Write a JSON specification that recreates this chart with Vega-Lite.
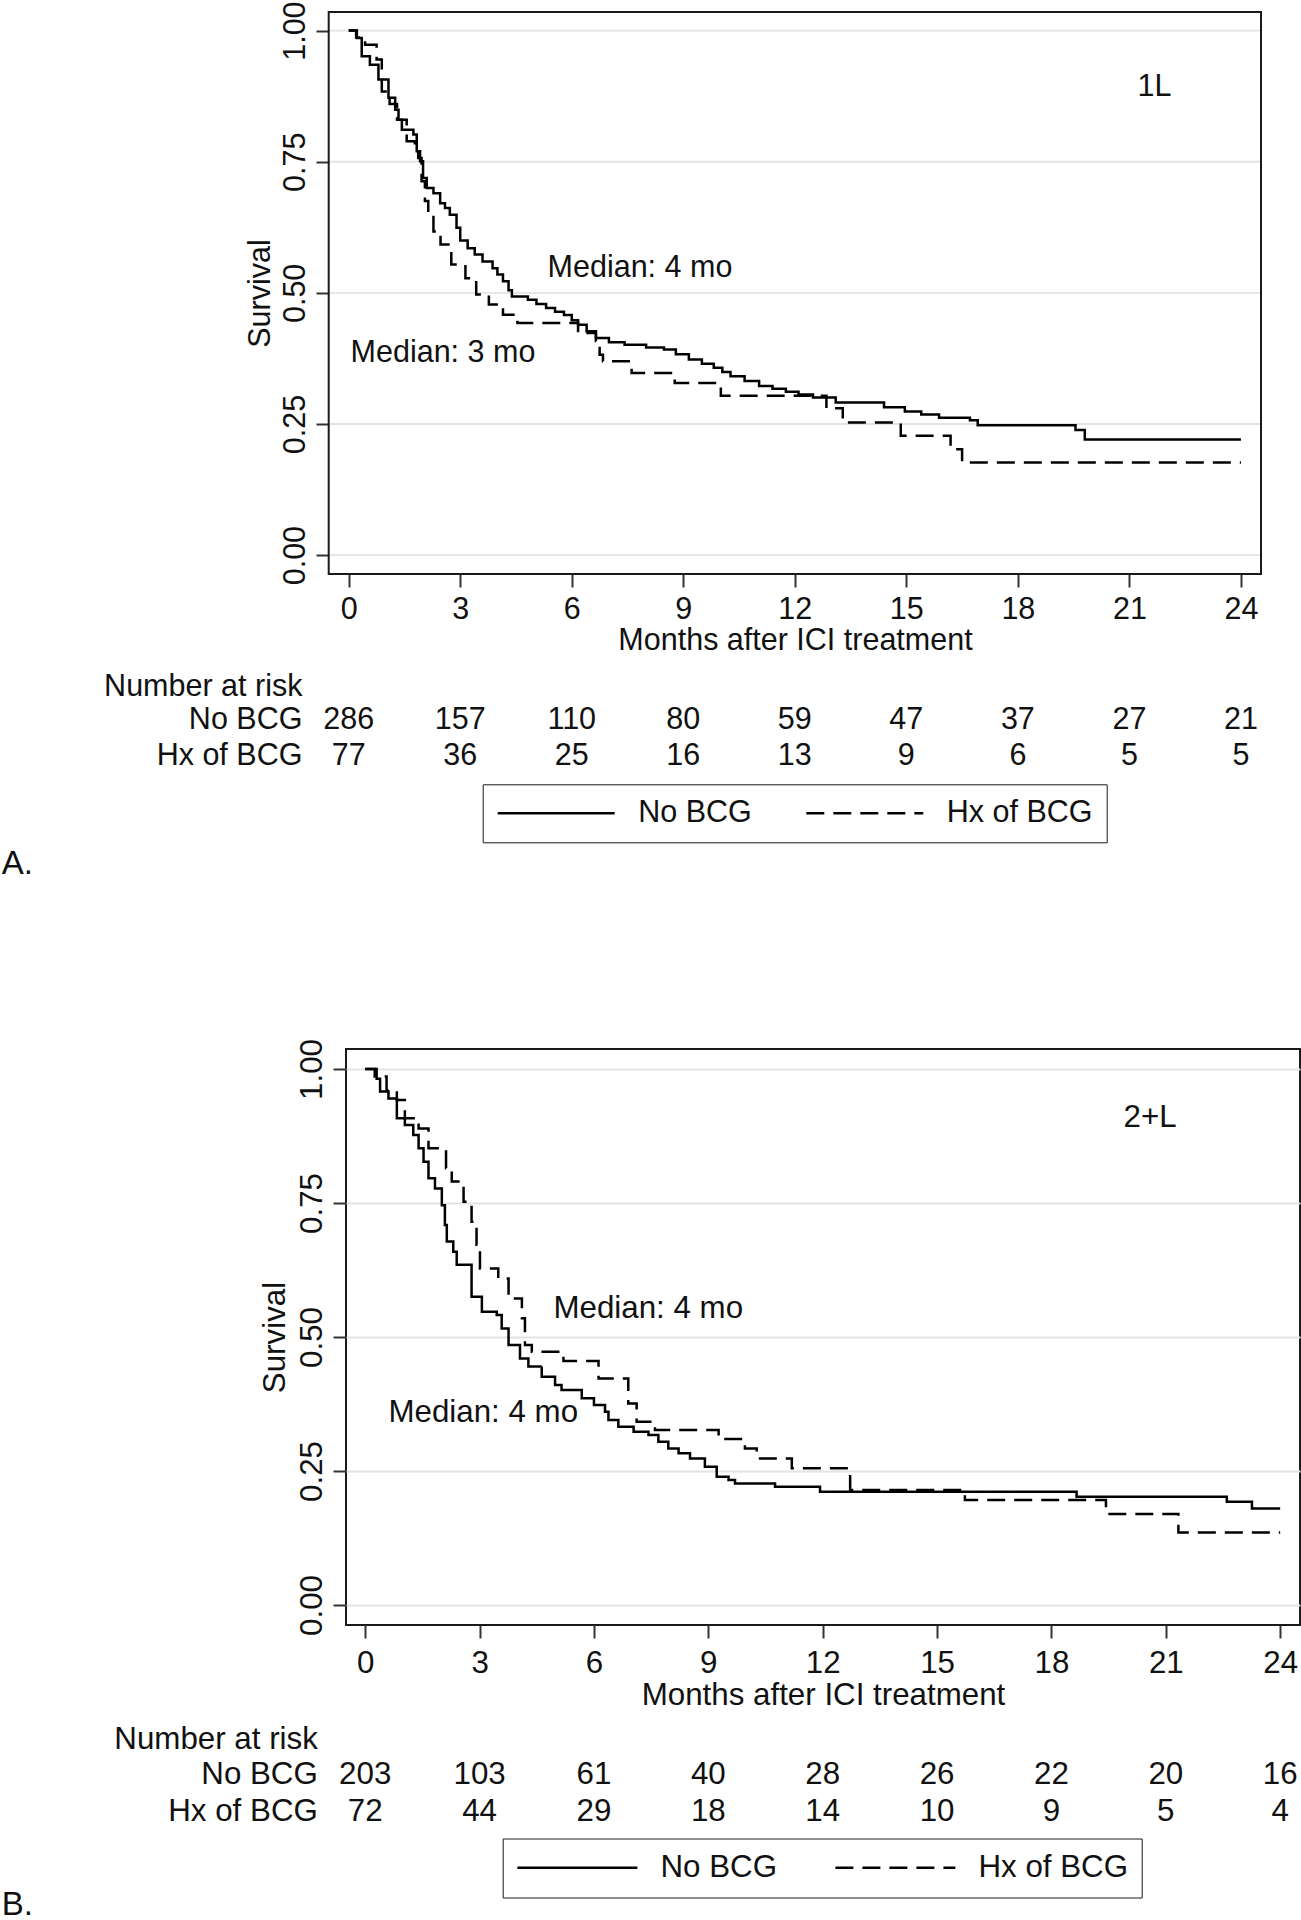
{
  "$schema": "https://vega.github.io/schema/vega-lite/v6.json",
  "padding": 0,
  "background": "white",
  "config": {
    "font": "Liberation Sans",
    "view": {"stroke": "#1a1a1a", "strokeWidth": 2},
    "axis": {"domain": false, "tickColor": "#333", "tickWidth": 2, "tickSize": 13, "labelColor": "#111", "titleColor": "#111", "titleFontWeight": "normal", "labelFlush": false, "labelOverlap": false, "gridColor": "#e3e3e3", "gridWidth": 1.8},
    "text": {"color": "#111", "font": "Liberation Sans"}
  },
  "datasets": {
    "kmA": [
      {"group": "No BCG", "t": 0, "s": 1}, {"group": "No BCG", "t": 0.22, "s": 0.986}, {"group": "No BCG", "t": 0.35, "s": 0.951}, {"group": "No BCG", "t": 0.57, "s": 0.935}, {"group": "No BCG", "t": 0.8, "s": 0.907}, {"group": "No BCG", "t": 1.07, "s": 0.872}, {"group": "No BCG", "t": 1.25, "s": 0.849}, {"group": "No BCG", "t": 1.34, "s": 0.83}, {"group": "No BCG", "t": 1.43, "s": 0.811}, {"group": "No BCG", "t": 1.74, "s": 0.802}, {"group": "No BCG", "t": 1.83, "s": 0.77}, {"group": "No BCG", "t": 1.92, "s": 0.751}, {"group": "No BCG", "t": 2.0, "s": 0.719}, {"group": "No BCG", "t": 2.1, "s": 0.7}, {"group": "No BCG", "t": 2.28, "s": 0.69}, {"group": "No BCG", "t": 2.46, "s": 0.671}, {"group": "No BCG", "t": 2.59, "s": 0.662}, {"group": "No BCG", "t": 2.72, "s": 0.649}, {"group": "No BCG", "t": 2.9, "s": 0.624}, {"group": "No BCG", "t": 3.0, "s": 0.6}, {"group": "No BCG", "t": 3.2, "s": 0.585}, {"group": "No BCG", "t": 3.39, "s": 0.573}, {"group": "No BCG", "t": 3.6, "s": 0.56}, {"group": "No BCG", "t": 3.87, "s": 0.547}, {"group": "No BCG", "t": 4.0, "s": 0.535}, {"group": "No BCG", "t": 4.15, "s": 0.522}, {"group": "No BCG", "t": 4.3, "s": 0.505}, {"group": "No BCG", "t": 4.39, "s": 0.493}, {"group": "No BCG", "t": 4.82, "s": 0.487}, {"group": "No BCG", "t": 5.05, "s": 0.479}, {"group": "No BCG", "t": 5.31, "s": 0.471}, {"group": "No BCG", "t": 5.55, "s": 0.464}, {"group": "No BCG", "t": 5.79, "s": 0.458}, {"group": "No BCG", "t": 6.0, "s": 0.448}, {"group": "No BCG", "t": 6.17, "s": 0.439}, {"group": "No BCG", "t": 6.4, "s": 0.427}, {"group": "No BCG", "t": 6.65, "s": 0.414}, {"group": "No BCG", "t": 7.0, "s": 0.406}, {"group": "No BCG", "t": 7.42, "s": 0.401}, {"group": "No BCG", "t": 8.0, "s": 0.396}, {"group": "No BCG", "t": 8.48, "s": 0.392}, {"group": "No BCG", "t": 8.8, "s": 0.383}, {"group": "No BCG", "t": 9.15, "s": 0.373}, {"group": "No BCG", "t": 9.5, "s": 0.365}, {"group": "No BCG", "t": 9.82, "s": 0.357}, {"group": "No BCG", "t": 10.05, "s": 0.349}, {"group": "No BCG", "t": 10.27, "s": 0.341}, {"group": "No BCG", "t": 10.65, "s": 0.332}, {"group": "No BCG", "t": 11.04, "s": 0.3226}, {"group": "No BCG", "t": 11.4, "s": 0.317}, {"group": "No BCG", "t": 11.76, "s": 0.3115}, {"group": "No BCG", "t": 12.1, "s": 0.306}, {"group": "No BCG", "t": 12.49, "s": 0.3007}, {"group": "No BCG", "t": 13.1, "s": 0.291}, {"group": "No BCG", "t": 14.4, "s": 0.282}, {"group": "No BCG", "t": 14.96, "s": 0.2736}, {"group": "No BCG", "t": 15.4, "s": 0.268}, {"group": "No BCG", "t": 15.88, "s": 0.262}, {"group": "No BCG", "t": 16.71, "s": 0.257}, {"group": "No BCG", "t": 16.92, "s": 0.2475}, {"group": "No BCG", "t": 19.55, "s": 0.2387}, {"group": "No BCG", "t": 19.8, "s": 0.2204}, {"group": "No BCG", "t": 24, "s": 0.2204},
      {"group": "Hx of BCG", "t": 0, "s": 1}, {"group": "Hx of BCG", "t": 0.2, "s": 0.987}, {"group": "Hx of BCG", "t": 0.44, "s": 0.973}, {"group": "Hx of BCG", "t": 0.75, "s": 0.945}, {"group": "Hx of BCG", "t": 0.89, "s": 0.884}, {"group": "Hx of BCG", "t": 1.1, "s": 0.86}, {"group": "Hx of BCG", "t": 1.3, "s": 0.83}, {"group": "Hx of BCG", "t": 1.56, "s": 0.789}, {"group": "Hx of BCG", "t": 1.78, "s": 0.776}, {"group": "Hx of BCG", "t": 1.87, "s": 0.757}, {"group": "Hx of BCG", "t": 1.96, "s": 0.713}, {"group": "Hx of BCG", "t": 2.05, "s": 0.675}, {"group": "Hx of BCG", "t": 2.14, "s": 0.649}, {"group": "Hx of BCG", "t": 2.28, "s": 0.617}, {"group": "Hx of BCG", "t": 2.47, "s": 0.592}, {"group": "Hx of BCG", "t": 2.76, "s": 0.554}, {"group": "Hx of BCG", "t": 3.14, "s": 0.528}, {"group": "Hx of BCG", "t": 3.43, "s": 0.497}, {"group": "Hx of BCG", "t": 3.77, "s": 0.478}, {"group": "Hx of BCG", "t": 4.15, "s": 0.4585}, {"group": "Hx of BCG", "t": 4.54, "s": 0.4425}, {"group": "Hx of BCG", "t": 6.17, "s": 0.4235}, {"group": "Hx of BCG", "t": 6.65, "s": 0.408}, {"group": "Hx of BCG", "t": 6.75, "s": 0.382}, {"group": "Hx of BCG", "t": 6.84, "s": 0.3695}, {"group": "Hx of BCG", "t": 7.61, "s": 0.347}, {"group": "Hx of BCG", "t": 8.77, "s": 0.328}, {"group": "Hx of BCG", "t": 10.01, "s": 0.304}, {"group": "Hx of BCG", "t": 12.85, "s": 0.28}, {"group": "Hx of BCG", "t": 13.29, "s": 0.253}, {"group": "Hx of BCG", "t": 14.85, "s": 0.2277}, {"group": "Hx of BCG", "t": 16.19, "s": 0.202}, {"group": "Hx of BCG", "t": 16.5, "s": 0.1766}, {"group": "Hx of BCG", "t": 24, "s": 0.1766}
    ],
    "kmB": [
      {"group": "No BCG", "t": 0, "s": 1}, {"group": "No BCG", "t": 0.3, "s": 0.982}, {"group": "No BCG", "t": 0.39, "s": 0.958}, {"group": "No BCG", "t": 0.61, "s": 0.945}, {"group": "No BCG", "t": 0.83, "s": 0.908}, {"group": "No BCG", "t": 1.04, "s": 0.8955}, {"group": "No BCG", "t": 1.26, "s": 0.877}, {"group": "No BCG", "t": 1.4, "s": 0.852}, {"group": "No BCG", "t": 1.53, "s": 0.827}, {"group": "No BCG", "t": 1.66, "s": 0.796}, {"group": "No BCG", "t": 1.83, "s": 0.777}, {"group": "No BCG", "t": 2.01, "s": 0.746}, {"group": "No BCG", "t": 2.09, "s": 0.709}, {"group": "No BCG", "t": 2.14, "s": 0.678}, {"group": "No BCG", "t": 2.31, "s": 0.659}, {"group": "No BCG", "t": 2.4, "s": 0.635}, {"group": "No BCG", "t": 2.79, "s": 0.575}, {"group": "No BCG", "t": 3.06, "s": 0.547}, {"group": "No BCG", "t": 3.45, "s": 0.541}, {"group": "No BCG", "t": 3.58, "s": 0.516}, {"group": "No BCG", "t": 3.76, "s": 0.485}, {"group": "No BCG", "t": 4.06, "s": 0.46}, {"group": "No BCG", "t": 4.28, "s": 0.445}, {"group": "No BCG", "t": 4.63, "s": 0.426}, {"group": "No BCG", "t": 4.98, "s": 0.4105}, {"group": "No BCG", "t": 5.15, "s": 0.401}, {"group": "No BCG", "t": 5.68, "s": 0.3855}, {"group": "No BCG", "t": 6.0, "s": 0.373}, {"group": "No BCG", "t": 6.29, "s": 0.3606}, {"group": "No BCG", "t": 6.38, "s": 0.345}, {"group": "No BCG", "t": 6.64, "s": 0.3327}, {"group": "No BCG", "t": 7.04, "s": 0.3233}, {"group": "No BCG", "t": 7.43, "s": 0.317}, {"group": "No BCG", "t": 7.69, "s": 0.3047}, {"group": "No BCG", "t": 7.95, "s": 0.292}, {"group": "No BCG", "t": 8.22, "s": 0.283}, {"group": "No BCG", "t": 8.52, "s": 0.2735}, {"group": "No BCG", "t": 8.91, "s": 0.258}, {"group": "No BCG", "t": 9.22, "s": 0.2394}, {"group": "No BCG", "t": 9.53, "s": 0.2332}, {"group": "No BCG", "t": 9.7, "s": 0.2269}, {"group": "No BCG", "t": 10.75, "s": 0.2207}, {"group": "No BCG", "t": 11.93, "s": 0.2114}, {"group": "No BCG", "t": 18.66, "s": 0.202}, {"group": "No BCG", "t": 22.6, "s": 0.1927}, {"group": "No BCG", "t": 23.26, "s": 0.18}, {"group": "No BCG", "t": 24, "s": 0.18},
      {"group": "Hx of BCG", "t": 0, "s": 1}, {"group": "Hx of BCG", "t": 0.25, "s": 0.986}, {"group": "Hx of BCG", "t": 0.56, "s": 0.96}, {"group": "Hx of BCG", "t": 0.83, "s": 0.942}, {"group": "Hx of BCG", "t": 1.04, "s": 0.908}, {"group": "Hx of BCG", "t": 1.4, "s": 0.889}, {"group": "Hx of BCG", "t": 1.66, "s": 0.852}, {"group": "Hx of BCG", "t": 2.12, "s": 0.815}, {"group": "Hx of BCG", "t": 2.27, "s": 0.79}, {"group": "Hx of BCG", "t": 2.58, "s": 0.7525}, {"group": "Hx of BCG", "t": 2.79, "s": 0.715}, {"group": "Hx of BCG", "t": 2.92, "s": 0.672}, {"group": "Hx of BCG", "t": 3.01, "s": 0.628}, {"group": "Hx of BCG", "t": 3.49, "s": 0.609}, {"group": "Hx of BCG", "t": 3.76, "s": 0.572}, {"group": "Hx of BCG", "t": 4.11, "s": 0.535}, {"group": "Hx of BCG", "t": 4.19, "s": 0.485}, {"group": "Hx of BCG", "t": 4.37, "s": 0.4725}, {"group": "Hx of BCG", "t": 5.2, "s": 0.455}, {"group": "Hx of BCG", "t": 6.12, "s": 0.4228}, {"group": "Hx of BCG", "t": 6.9, "s": 0.376}, {"group": "Hx of BCG", "t": 7.12, "s": 0.342}, {"group": "Hx of BCG", "t": 7.6, "s": 0.3265}, {"group": "Hx of BCG", "t": 9.27, "s": 0.3097}, {"group": "Hx of BCG", "t": 9.96, "s": 0.292}, {"group": "Hx of BCG", "t": 10.27, "s": 0.2735}, {"group": "Hx of BCG", "t": 11.19, "s": 0.255}, {"group": "Hx of BCG", "t": 12.72, "s": 0.2146}, {"group": "Hx of BCG", "t": 15.73, "s": 0.1959}, {"group": "Hx of BCG", "t": 19.43, "s": 0.17}, {"group": "Hx of BCG", "t": 21.33, "s": 0.1355}, {"group": "Hx of BCG", "t": 24, "s": 0.1355}
    ],
    "riskA": [
      {"group": "No BCG", "t": 0, "n": 286}, {"group": "No BCG", "t": 3, "n": 157}, {"group": "No BCG", "t": 6, "n": 110}, {"group": "No BCG", "t": 9, "n": 80}, {"group": "No BCG", "t": 12, "n": 59}, {"group": "No BCG", "t": 15, "n": 47}, {"group": "No BCG", "t": 18, "n": 37}, {"group": "No BCG", "t": 21, "n": 27}, {"group": "No BCG", "t": 24, "n": 21},
      {"group": "Hx of BCG", "t": 0, "n": 77}, {"group": "Hx of BCG", "t": 3, "n": 36}, {"group": "Hx of BCG", "t": 6, "n": 25}, {"group": "Hx of BCG", "t": 9, "n": 16}, {"group": "Hx of BCG", "t": 12, "n": 13}, {"group": "Hx of BCG", "t": 15, "n": 9}, {"group": "Hx of BCG", "t": 18, "n": 6}, {"group": "Hx of BCG", "t": 21, "n": 5}, {"group": "Hx of BCG", "t": 24, "n": 5}
    ],
    "riskB": [
      {"group": "No BCG", "t": 0, "n": 203}, {"group": "No BCG", "t": 3, "n": 103}, {"group": "No BCG", "t": 6, "n": 61}, {"group": "No BCG", "t": 9, "n": 40}, {"group": "No BCG", "t": 12, "n": 28}, {"group": "No BCG", "t": 15, "n": 26}, {"group": "No BCG", "t": 18, "n": 22}, {"group": "No BCG", "t": 21, "n": 20}, {"group": "No BCG", "t": 24, "n": 16},
      {"group": "Hx of BCG", "t": 0, "n": 72}, {"group": "Hx of BCG", "t": 3, "n": 44}, {"group": "Hx of BCG", "t": 6, "n": 29}, {"group": "Hx of BCG", "t": 9, "n": 18}, {"group": "Hx of BCG", "t": 12, "n": 14}, {"group": "Hx of BCG", "t": 15, "n": 10}, {"group": "Hx of BCG", "t": 18, "n": 9}, {"group": "Hx of BCG", "t": 21, "n": 5}, {"group": "Hx of BCG", "t": 24, "n": 4}
    ]
  },
  "vconcat": [
    {
      "width": 915,
      "height": 562,
      "view": {"stroke": null},
      "layer": [
        {"data": {"values": [{}]}, "mark": {"type": "rule", "color": "#e3e3e3", "strokeWidth": 1.8},
         "encoding": {"x": {"datum": -0.538, "type": "quantitative"}, "x2": {"datum": 24.54}, "y": {"datum": 0, "type": "quantitative"}}},
        {"data": {"values": [{}]}, "mark": {"type": "rule", "color": "#e3e3e3", "strokeWidth": 1.8},
         "encoding": {"x": {"datum": -0.538, "type": "quantitative"}, "x2": {"datum": 24.54}, "y": {"datum": 0.25, "type": "quantitative"}}},
        {"data": {"values": [{}]}, "mark": {"type": "rule", "color": "#e3e3e3", "strokeWidth": 1.8},
         "encoding": {"x": {"datum": -0.538, "type": "quantitative"}, "x2": {"datum": 24.54}, "y": {"datum": 0.5, "type": "quantitative"}}},
        {"data": {"values": [{}]}, "mark": {"type": "rule", "color": "#e3e3e3", "strokeWidth": 1.8},
         "encoding": {"x": {"datum": -0.538, "type": "quantitative"}, "x2": {"datum": 24.54}, "y": {"datum": 0.75, "type": "quantitative"}}},
        {"data": {"values": [{}]}, "mark": {"type": "rule", "color": "#e3e3e3", "strokeWidth": 1.8},
         "encoding": {"x": {"datum": -0.538, "type": "quantitative"}, "x2": {"datum": 24.54}, "y": {"datum": 1, "type": "quantitative"}}},
        {"data": {"values": [{}]}, "mark": {"type": "rect", "fill": "transparent", "stroke": "#1a1a1a", "strokeWidth": 2},
         "encoding": {"x": {"datum": -0.538, "type": "quantitative"}, "x2": {"datum": 24.54}, "y": {"datum": -0.036, "type": "quantitative"}, "y2": {"datum": 1.0355}}},
        {
          "data": {"name": "kmA"},
          "mark": {"type": "line", "interpolate": "step-after", "color": "black", "strokeWidth": 2.5},
          "encoding": {
            "x": {"field": "t", "type": "quantitative", "scale": {"domain": [-0.0726, 24.54], "nice": false, "zero": false},
                  "axis": {"values": [0, 3, 6, 9, 12, 15, 18, 21, 24], "title": "Months after ICI treatment", "labelFontSize": 30.5, "titleFontSize": 30.5, "labelPadding": 7.5, "titlePadding": 0, "titleX": 449, "grid": false}},
            "y": {"field": "s", "type": "quantitative", "scale": {"domain": [-0.036, 1.0355], "nice": false, "zero": false},
                  "axis": {"values": [0, 0.25, 0.5, 0.75, 1], "format": ".2f", "title": "Survival", "offset": 17, "labelFontSize": 30.5, "titleFontSize": 30.5, "labelAngle": -90, "labelAlign": "center", "labelBaseline": "alphabetic", "labelPadding": 12, "titlePadding": 4.5, "grid": false}},
            "strokeDash": {"field": "group", "type": "nominal", "scale": {"domain": ["No BCG", "Hx of BCG"], "range": [[1, 0], [18, 9]]},
                  "legend": {"title": null, "orient": "none", "legendX": 136.7, "legendY": 772.3, "direction": "horizontal", "strokeColor": "#1a1a1a", "padding": 13.5, "symbolType": "stroke", "symbolSize": 13689, "symbolStrokeWidth": 2.5, "symbolStrokeColor": "black", "labelFontSize": 30.5, "labelColor": "#111", "labelOffset": 22, "columnPadding": 52.6, "clipHeight": 31}}
          }
        },
        {
          "data": {"values": [{}]},
          "mark": {"type": "text", "text": "Median: 4 mo", "fontSize": 30.5, "align": "left", "baseline": "alphabetic"},
          "encoding": {"x": {"datum": 5.35, "type": "quantitative"}, "y": {"datum": 0.5297, "type": "quantitative"}}
        },
        {
          "data": {"values": [{}]},
          "mark": {"type": "text", "text": "Median: 3 mo", "fontSize": 30.5, "align": "left", "baseline": "alphabetic"},
          "encoding": {"x": {"datum": 0.05, "type": "quantitative"}, "y": {"datum": 0.368, "type": "quantitative"}}
        },
        {
          "data": {"values": [{}]},
          "mark": {"type": "text", "text": "1L", "fontSize": 30.5, "align": "left", "baseline": "alphabetic"},
          "encoding": {"x": {"datum": 21.22, "type": "quantitative"}, "y": {"datum": 0.8747, "type": "quantitative"}}
        },
        {
          "data": {"name": "riskA"},
          "transform": [{"filter": "datum.group === 'No BCG'"}],
          "mark": {"type": "text", "fontSize": 30.5, "align": "center", "baseline": "alphabetic"},
          "encoding": {"x": {"field": "t", "type": "quantitative"}, "y": {"datum": -0.3321, "type": "quantitative"}, "text": {"field": "n", "type": "quantitative"}}
        },
        {
          "data": {"name": "riskA"},
          "transform": [{"filter": "datum.group === 'Hx of BCG'"}],
          "mark": {"type": "text", "fontSize": 30.5, "align": "center", "baseline": "alphabetic"},
          "encoding": {"x": {"field": "t", "type": "quantitative"}, "y": {"datum": -0.4008, "type": "quantitative"}, "text": {"field": "n", "type": "quantitative"}}
        },
        {
          "data": {"values": [{}]},
          "mark": {"type": "text", "text": "Number at risk", "fontSize": 30.5, "align": "right", "baseline": "alphabetic"},
          "encoding": {"x": {"datum": -1.245, "type": "quantitative"}, "y": {"datum": -0.2692, "type": "quantitative"}}
        },
        {
          "data": {"values": [{}]},
          "mark": {"type": "text", "text": "No BCG", "fontSize": 30.5, "align": "right", "baseline": "alphabetic"},
          "encoding": {"x": {"datum": -1.245, "type": "quantitative"}, "y": {"datum": -0.3321, "type": "quantitative"}}
        },
        {
          "data": {"values": [{}]},
          "mark": {"type": "text", "text": "Hx of BCG", "fontSize": 30.5, "align": "right", "baseline": "alphabetic"},
          "encoding": {"x": {"datum": -1.245, "type": "quantitative"}, "y": {"datum": -0.4008, "type": "quantitative"}}
        },
        {
          "data": {"values": [{}]},
          "mark": {"type": "text", "text": "A.", "fontSize": 33, "align": "left", "baseline": "alphabetic"},
          "encoding": {"x": {"datum": -9.333, "type": "quantitative"}, "y": {"datum": -0.608, "type": "quantitative"}}
        }
      ]
    },
    {
      "width": 954,
      "height": 576,
      "layer": [
        {
          "data": {"name": "kmB"},
          "mark": {"type": "line", "interpolate": "step-after", "color": "black", "strokeWidth": 2.5},
          "encoding": {
            "x": {"field": "t", "type": "quantitative", "scale": {"domain": [-0.504, 24.52], "nice": false, "zero": false},
                  "axis": {"values": [0, 3, 6, 9, 12, 15, 18, 21, 24], "title": "Months after ICI treatment", "labelFontSize": 31.3, "titleFontSize": 31.3, "labelPadding": 9.8, "titlePadding": 0, "grid": false}},
            "y": {"field": "s", "type": "quantitative", "scale": {"domain": [-0.0373, 1.0373], "nice": false, "zero": false},
                  "axis": {"values": [0, 0.25, 0.5, 0.75, 1], "format": ".2f", "title": "Survival", "labelFontSize": 31.3, "titleFontSize": 31.3, "labelAngle": -90, "labelAlign": "center", "labelBaseline": "alphabetic", "labelPadding": 11.5, "titlePadding": 5.2, "grid": true}},
            "strokeDash": {"field": "group", "type": "nominal", "scale": {"domain": ["No BCG", "Hx of BCG"], "range": [[1, 0], [18, 9]]},
                  "legend": {"title": null, "orient": "none", "legendX": 156.7, "legendY": 789.5, "direction": "horizontal", "strokeColor": "#1a1a1a", "padding": 13.2, "symbolType": "stroke", "symbolSize": 14400, "symbolStrokeWidth": 2.5, "symbolStrokeColor": "black", "labelFontSize": 31.3, "labelColor": "#111", "labelOffset": 21.6, "columnPadding": 56, "clipHeight": 32}}
          }
        },
        {
          "data": {"values": [{}]},
          "mark": {"type": "text", "text": "Median: 4 mo", "fontSize": 31.3, "align": "left", "baseline": "alphabetic"},
          "encoding": {"x": {"datum": 4.937, "type": "quantitative"}, "y": {"datum": 0.5347, "type": "quantitative"}}
        },
        {
          "data": {"values": [{}]},
          "mark": {"type": "text", "text": "Median: 4 mo", "fontSize": 31.3, "align": "left", "baseline": "alphabetic"},
          "encoding": {"x": {"datum": 0.609, "type": "quantitative"}, "y": {"datum": 0.342, "type": "quantitative"}}
        },
        {
          "data": {"values": [{}]},
          "mark": {"type": "text", "text": "2+L", "fontSize": 31.3, "align": "left", "baseline": "alphabetic"},
          "encoding": {"x": {"datum": 19.89, "type": "quantitative"}, "y": {"datum": 0.8924, "type": "quantitative"}}
        },
        {
          "data": {"name": "riskB"},
          "transform": [{"filter": "datum.group === 'No BCG'"}],
          "mark": {"type": "text", "fontSize": 31.3, "align": "center", "baseline": "alphabetic"},
          "encoding": {"x": {"field": "t", "type": "quantitative"}, "y": {"datum": -0.3347, "type": "quantitative"}, "text": {"field": "n", "type": "quantitative"}}
        },
        {
          "data": {"name": "riskB"},
          "transform": [{"filter": "datum.group === 'Hx of BCG'"}],
          "mark": {"type": "text", "fontSize": 31.3, "align": "center", "baseline": "alphabetic"},
          "encoding": {"x": {"field": "t", "type": "quantitative"}, "y": {"datum": -0.403, "type": "quantitative"}, "text": {"field": "n", "type": "quantitative"}}
        },
        {
          "data": {"values": [{}]},
          "mark": {"type": "text", "text": "Number at risk", "fontSize": 31.3, "align": "right", "baseline": "alphabetic"},
          "encoding": {"x": {"datum": -1.243, "type": "quantitative"}, "y": {"datum": -0.2687, "type": "quantitative"}}
        },
        {
          "data": {"values": [{}]},
          "mark": {"type": "text", "text": "No BCG", "fontSize": 31.3, "align": "right", "baseline": "alphabetic"},
          "encoding": {"x": {"datum": -1.243, "type": "quantitative"}, "y": {"datum": -0.3347, "type": "quantitative"}}
        },
        {
          "data": {"values": [{}]},
          "mark": {"type": "text", "text": "Hx of BCG", "fontSize": 31.3, "align": "right", "baseline": "alphabetic"},
          "encoding": {"x": {"datum": -1.243, "type": "quantitative"}, "y": {"datum": -0.403, "type": "quantitative"}}
        },
        {
          "data": {"values": [{}]},
          "mark": {"type": "text", "text": "B.", "fontSize": 33, "align": "left", "baseline": "alphabetic"},
          "encoding": {"x": {"datum": -9.536, "type": "quantitative"}, "y": {"datum": -0.578, "type": "quantitative"}}
        }
      ]
    }
  ],
  "spacing": 155,
  "resolve": {"scale": {"x": "independent", "y": "independent", "strokeDash": "independent"}, "legend": {"strokeDash": "independent"}}
}
